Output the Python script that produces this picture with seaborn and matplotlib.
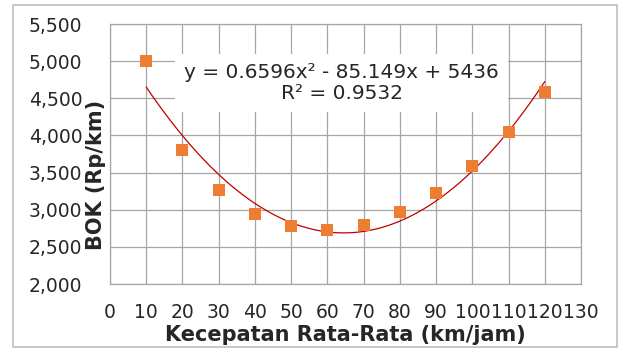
import numpy as np
import pandas as pd
import matplotlib.pyplot as plt
import seaborn as sns
from matplotlib.patches import Rectangle
from matplotlib.ticker import FuncFormatter, MultipleLocator

# data
kecepatan = [10, 20, 30, 40, 50, 60, 70, 80, 90, 100, 110, 120]
bok = [5000, 3800, 3260, 2945, 2775, 2730, 2800, 2965, 3230, 3590, 4040, 4580]
persamaan = "y = 0.6596x\u00b2 - 85.149x + 5436\nR\u00b2 = 0.9532"

df = pd.DataFrame({"kecepatan": kecepatan, "bok": bok})

sns.set_style("white")
plt.rcParams["font.family"] = ["DejaVu Sans"]

fig = plt.figure(figsize=(6.19, 3.49), dpi=100)
ax = fig.add_axes([0.1777, 0.1862, 0.761, 0.745])

# scatter + polinom orde 2 (trendline)
sns.regplot(data=df, x="kecepatan", y="bok", order=2, ci=None, ax=ax,
            marker="s",
            scatter_kws={"color": "#ED7D31", "s": 70, "alpha": 1, "zorder": 3, "linewidths": 0},
            line_kws={"color": "#C00000", "lw": 0.9, "zorder": 2})

ax.set_xlim(0, 130)
ax.set_ylim(2000, 5500)
ax.xaxis.set_major_locator(MultipleLocator(10))
ax.yaxis.set_major_locator(MultipleLocator(500))
ax.yaxis.set_major_formatter(FuncFormatter(lambda v, p: f"{int(v):,}"))
ax.grid(True, color="#A6A6A6", lw=0.9)
ax.set_axisbelow(True)
for s in ax.spines.values():
    s.set_color("#A6A6A6")
    s.set_linewidth(0.9)
ax.tick_params(axis="x", length=5, width=0.9, color="#A6A6A6", labelsize=13.5, pad=9)
ax.tick_params(axis="y", length=5, width=0.9, color="#A6A6A6", labelsize=13.5, pad=15)

ax.set_xlabel("Kecepatan Rata-Rata (km/jam)", fontsize=15, fontweight="bold", labelpad=1.5)
ax.set_ylabel("BOK (Rp/km)", fontsize=15, fontweight="bold")
ax.yaxis.set_label_coords(-0.008, 0.42)

ax.text(0.4915, 0.773, persamaan, transform=ax.transAxes, ha="center", va="center",
        fontsize=14.5, linespacing=1.15, zorder=4,
        bbox=dict(facecolor="white", edgecolor="none", pad=6.5))

# bingkai luar
fig.patches.append(Rectangle((0.021, 0.006), 0.976, 0.98, transform=fig.transFigure,
                             fill=False, edgecolor="#BFBFBF", lw=1.2))

plt.savefig("out.png", dpi=100)
